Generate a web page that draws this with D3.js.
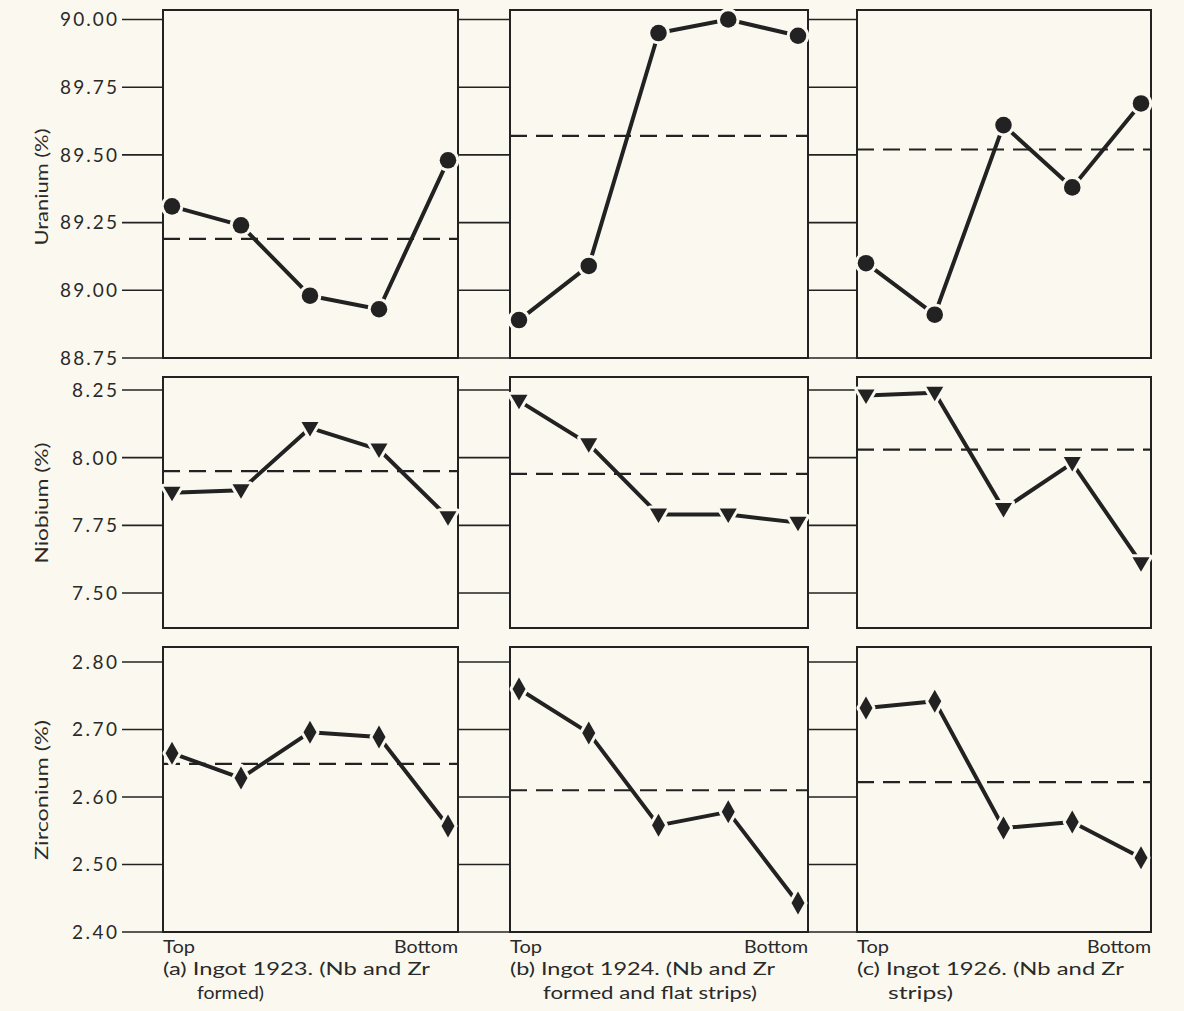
<!DOCTYPE html>
<html>
<head>
<meta charset="utf-8">
<script src="https://cdn.jsdelivr.net/npm/d3@7"></script>
<style>
  html, body { margin: 0; padding: 0; background: #fbf9ef; }
  svg { display: block; }
  text { font-family: Lato, "Open Sans", sans-serif; fill: #2a2a2a; }
</style>
</head>
<body>
<svg id="chart" width="1184" height="1011"></svg>
<script>
// ---------- data ----------
const positions = [0, 1, 2, 3, 4];           // Top ... Bottom sampling positions
const ingots = ["1923", "1924", "1926"];
const captionLine1 = ["(a) Ingot 1923. (Nb and Zr", "(b) Ingot 1924. (Nb and Zr", "(c) Ingot 1926. (Nb and Zr"];
const captionLine2 = ["formed)", "formed and flat strips)", "strips)"];
const elements = ["Uranium (%)", "Niobium (%)", "Zirconium (%)"];

const uranium = [
  [89.31, 89.24, 88.98, 88.93, 89.48],
  [88.89, 89.09, 89.95, 90.00, 89.94],
  [89.10, 88.91, 89.61, 89.38, 89.69]
];
const uraniumMean = [89.19, 89.57, 89.52];

const niobium = [
  [7.87, 7.88, 8.11, 8.03, 7.78],
  [8.21, 8.05, 7.79, 7.79, 7.76],
  [8.23, 8.24, 7.81, 7.98, 7.61]
];
const niobiumMean = [7.95, 7.94, 8.03];

const zirconium = [
  [2.665, 2.628, 2.696, 2.689, 2.557],
  [2.760, 2.695, 2.558, 2.578, 2.443],
  [2.732, 2.742, 2.554, 2.563, 2.510]
];
const zirconiumMean = [2.649, 2.610, 2.622];

const uraniumTicks = [90.00, 89.75, 89.50, 89.25, 89.00, 88.75];
const niobiumTicks = [8.25, 8.00, 7.75, 7.50];
const zirconiumTicks = [2.80, 2.70, 2.60, 2.50, 2.40];
const xEndLabels = ["Top", "Bottom"];

// ---------- layout ----------
const svg = d3.select("#chart");
const ink = "#222";
const bg = "#fbf9ef";

const cols = [
  { left: 163, right: 458, cap1W: 267, cap2X: 34, cap2W: 67 },
  { left: 510, right: 808, cap1W: 265, cap2X: 33, cap2W: 214 },
  { left: 857, right: 1151, cap1W: 267, cap2X: 31, cap2W: 65 }
];
const rows = [
  { name: elements[0], values: uranium, means: uraniumMean, ticks: uraniumTicks, titleY: 187, titleW: 117,
    boxTop: 10, boxBottom: 358, dom: [88.75, 90.00], rng: [358, 19.5], marker: "circle" },
  { name: elements[1], values: niobium, means: niobiumMean, ticks: niobiumTicks, titleY: 503, titleW: 121,
    boxTop: 377, boxBottom: 628, dom: [7.50, 8.25], rng: [593, 390], marker: "triangle" },
  { name: elements[2], values: zirconium, means: zirconiumMean, ticks: zirconiumTicks, titleY: 790, titleW: 140,
    boxTop: 647, boxBottom: 932, dom: [2.40, 2.80], rng: [932, 662], marker: "diamond" }
];
const fmt = d3.format(".2f");
const tickLeftX = 122;

rows.forEach((row, ri) => {
  const y = d3.scaleLinear().domain(row.dom).range(row.rng);

  // ticks: left of first panel and across the gaps between panels
  const gaps = [[tickLeftX, cols[0].left], [cols[0].right, cols[1].left], [cols[1].right, cols[2].left]];
  gaps.forEach(([x0, x1]) => {
    svg.append("g").selectAll("line").data(row.ticks).join("line")
      .attr("x1", x0).attr("x2", x1)
      .attr("y1", d => y(d)).attr("y2", d => y(d))
      .attr("stroke", ink).attr("stroke-width", 1.6);
  });

  // tick labels
  svg.append("g").selectAll("text").data(row.ticks).join("text")
    .attr("x", 117).attr("y", d => y(d))
    .attr("dy", "0.36em")
    .attr("text-anchor", "end")
    .attr("font-size", 19)
    .attr("textLength", d => fmt(d).length === 5 ? 57 : 45)
    .attr("lengthAdjust", "spacing")
    .text(d => fmt(d));

  // y axis title
  svg.append("text")
    .attr("transform", `translate(48,${row.titleY}) rotate(-90)`)
    .attr("text-anchor", "middle")
    .attr("font-size", 18)
    .attr("textLength", row.titleW)
    .attr("lengthAdjust", "spacingAndGlyphs")
    .text(row.name);

  cols.forEach((col, ci) => {
    const x = d3.scalePoint().domain(positions).range([col.left + 9, col.right - 10]);
    const g = svg.append("g");

    // frame
    g.append("rect")
      .attr("x", col.left).attr("y", row.boxTop)
      .attr("width", col.right - col.left).attr("height", row.boxBottom - row.boxTop)
      .attr("fill", "none").attr("stroke", ink).attr("stroke-width", 2);

    // mean dashed line
    g.append("line")
      .attr("x1", col.left).attr("x2", col.right)
      .attr("y1", y(row.means[ci])).attr("y2", y(row.means[ci]))
      .attr("stroke", ink).attr("stroke-width", 2.2)
      .attr("stroke-dasharray", "17,9");

    const vals = row.values[ci];
    const line = d3.line().x((d, i) => x(positions[i])).y(d => y(d));
    g.append("path")
      .attr("d", line(vals))
      .attr("fill", "none").attr("stroke", ink).attr("stroke-width", 4)
      .attr("stroke-linejoin", "round");

    // markers with a light halo so segments stop short of them
    let sym;
    if (row.marker === "circle") {
      sym = d3.symbol().type(d3.symbolCircle).size(215)();
    } else if (row.marker === "triangle") {
      sym = "M-8.5,-6L8.5,-6L0,8.5Z";
    } else {
      sym = "M0,-11.5L6.5,0L0,11.5L-6.5,0Z";
    }
    g.selectAll("path.m").data(vals).join("path")
      .attr("class", "m")
      .attr("d", sym)
      .attr("transform", (d, i) => `translate(${x(positions[i])},${y(d)})`)
      .attr("fill", ink)
      .attr("stroke", bg).attr("stroke-width", 6)
      .attr("stroke-linejoin", "round")
      .attr("paint-order", "stroke");
  });
});

// ---------- bottom labels ----------
cols.forEach((col, ci) => {
  svg.append("text").attr("x", col.left).attr("y", 953)
    .attr("font-size", 17).attr("textLength", 32).attr("lengthAdjust", "spacingAndGlyphs")
    .text(xEndLabels[0]);
  svg.append("text").attr("x", col.right - 64).attr("y", 953)
    .attr("font-size", 17).attr("textLength", 64).attr("lengthAdjust", "spacingAndGlyphs")
    .text(xEndLabels[1]);
  svg.append("text").attr("x", col.left).attr("y", 975)
    .attr("font-size", 18).attr("textLength", col.cap1W).attr("lengthAdjust", "spacingAndGlyphs")
    .text(captionLine1[ci]);
  svg.append("text").attr("x", col.left + col.cap2X).attr("y", 999)
    .attr("font-size", 18).attr("textLength", col.cap2W).attr("lengthAdjust", "spacingAndGlyphs")
    .text(captionLine2[ci]);
});
</script>
</body>
</html>
